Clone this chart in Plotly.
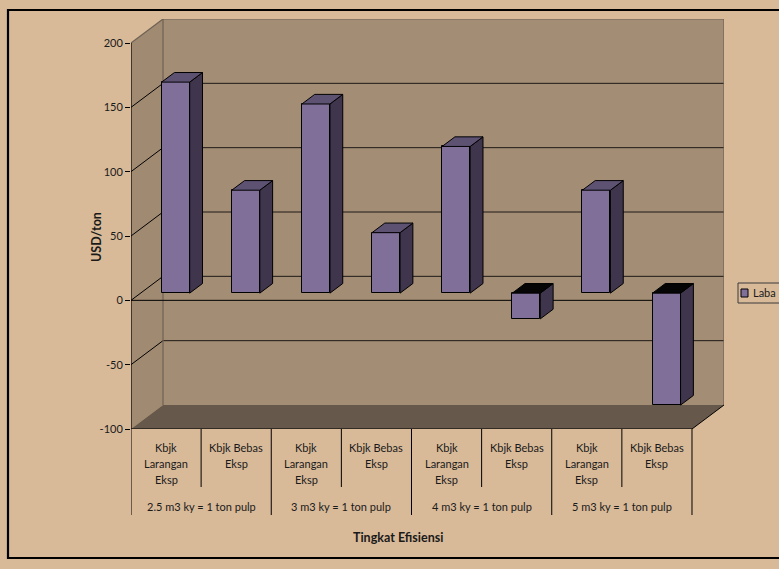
import plotly.graph_objects as go

# ---- data ----
sub_labels = ["Kbjk Larangan Eksp", "Kbjk Bebas Eksp"] * 4
sub_lines = [["Kbjk", "Larangan", "Eksp"], ["Kbjk Bebas", "Eksp"]] * 4
group_labels = ["2.5 m3 ky = 1 ton pulp", "3 m3 ky = 1 ton pulp",
                "4 m3 ky = 1 ton pulp", "5 m3 ky = 1 ton pulp"]
laba = [164, 80, 147, 47, 114, -20, 80, -87]
series_name = "Laba"
y_ticks = [-100, -50, 0, 50, 100, 150, 200]
y_tick_text = ["-100", "-50", "0", "50", "100", "150", "200"]

# ---- style / geometry ----
W, H = 779, 569
PL, PR, PT, PB = 131, 724, 19, 429          # plot area pixels
n = len(laba)
DX = 0.4565                                  # depth offset in category units
DY = 18.65                                   # depth offset in value units
F1, F2 = 0.3, 0.7                            # bar front/back depth fractions
BW = 0.4                                     # bar width (category units)
YMIN, YMAX = -100, 200

BG = "#d8b998"
WALL = "#a38d74"
SIDE = "#a08a71"
FLOOR = "#66584a"
EDGE = "#6e6255"
FRONT = "#806f98"
BSIDE = "#3f354d"
BTOP = "#5e5273"
FONT = "Lato, 'Open Sans', sans-serif"
TXT = "#1a1a1a"


def XP(px):
    return (px - PL) / (PR - PL)


def YP(py):
    return (PB - py) / (PB - PT)


fig = go.Figure()

# bar side faces and top faces (derived from data)
side_x, side_y, topp_x, topp_y, topn_x, topn_y = [], [], [], [], [], []
for i, v in enumerate(laba):
    cx = i + 0.5 + F1 * DX
    xl, xr = cx - BW / 2, cx + BW / 2
    dd = (F2 - F1) * DX
    lo, hi = min(v, 0), max(v, 0)
    b1, b2 = F1 * DY, F2 * DY
    side_x += [xr, xr, xr + dd, xr + dd, xr, None]
    side_y += [lo + b1, hi + b1, hi + b2, lo + b2, lo + b1, None]
    tx = [xl, xr, xr + dd, xl + dd, xl, None]
    ty = [hi + b1, hi + b1, hi + b2, hi + b2, hi + b1, None]
    if v >= 0:
        topp_x += tx
        topp_y += ty
    else:
        topn_x += tx
        topn_y += ty

fig.add_trace(go.Scatter(x=side_x, y=side_y, fill="toself", fillcolor=BSIDE,
                         mode="lines", line=dict(color="black", width=1),
                         showlegend=False, hoverinfo="skip"))
fig.add_trace(go.Scatter(x=topp_x, y=topp_y, fill="toself", fillcolor=BTOP,
                         mode="lines", line=dict(color="black", width=1),
                         showlegend=False, hoverinfo="skip"))
fig.add_trace(go.Scatter(x=topn_x, y=topn_y, fill="toself", fillcolor="#050505",
                         mode="lines", line=dict(color="black", width=1),
                         showlegend=False, hoverinfo="skip"))
fig.add_trace(go.Bar(
    x=[i + 0.5 + F1 * DX for i in range(n)], y=laba,
    base=[F1 * DY] * n, width=BW, name=series_name,
    marker=dict(color=FRONT, line=dict(color="black", width=1)),
    showlegend=False, customdata=sub_labels,
    hovertemplate="%{customdata}: %{y}<extra></extra>"))

shapes = []
# side wall
shapes.append(dict(type="path", xref="x", yref="y", layer="below",
                   path=f"M 0 {YMIN} L {DX} {YMIN+DY} L {DX} {YMAX+DY} L 0 {YMAX} Z",
                   fillcolor=SIDE, line=dict(width=0)))
# back wall
shapes.append(dict(type="rect", xref="x", yref="y", layer="below",
                   x0=DX, x1=n + DX, y0=YMIN + DY, y1=YMAX + DY,
                   fillcolor=WALL, line=dict(width=0)))
# floor
shapes.append(dict(type="path", xref="x", yref="y", layer="below",
                   path=f"M 0 {YMIN} L {n} {YMIN} L {n+DX} {YMIN+DY} L {DX} {YMIN+DY} Z",
                   fillcolor=FLOOR, line=dict(width=0)))
# gridlines
for t in y_ticks:
    if t in (YMIN, YMAX):
        continue
    shapes.append(dict(type="line", xref="x", yref="y", layer="below",
                       x0=0, y0=t, x1=DX, y1=t + DY, line=dict(color="black", width=1)))
    shapes.append(dict(type="line", xref="x", yref="y", layer="below",
                       x0=DX, y0=t + DY, x1=n + DX, y1=t + DY,
                       line=dict(color="#1e1a16", width=1)))
# wall edges
for (x0, y0, x1, y1) in [(0, YMAX, DX, YMAX + DY), (DX, YMAX + DY, n + DX, YMAX + DY),
                         (n + DX, YMIN + DY, n + DX, YMAX + DY),
                         (DX, YMIN + DY, DX, YMAX + DY)]:
    shapes.append(dict(type="line", xref="x", yref="y", layer="below",
                       x0=x0, y0=y0, x1=x1, y1=y1, line=dict(color=EDGE, width=1.2)))
# zero line at front plane
shapes.append(dict(type="line", xref="x", yref="y", layer="below",
                   x0=0, y0=0, x1=n, y1=0, line=dict(color="black", width=1)))
# floor front & right edges
shapes.append(dict(type="line", xref="x", yref="y", x0=0, y0=YMIN, x1=n, y1=YMIN,
                   line=dict(color="black", width=1.2)))
shapes.append(dict(type="line", xref="x", yref="y", x0=n, y0=YMIN, x1=n + DX, y1=YMIN + DY,
                   line=dict(color="black", width=1)))
# front value axis line
shapes.append(dict(type="line", xref="x", yref="y", x0=0, y0=YMIN, x1=0, y1=YMAX,
                   line=dict(color="black", width=1.2)))
# category separators
for k in range(n + 1):
    bottom = 515 if k % 2 == 0 else 487
    shapes.append(dict(type="line", xref="x", yref="paper", x0=k, x1=k,
                       y0=YP(PB), y1=YP(bottom), line=dict(color="black", width=1)))
# outer chart border
shapes.append(dict(type="rect", xref="paper", yref="paper",
                   x0=XP(8), x1=XP(800), y0=YP(558), y1=YP(10),
                   line=dict(color="black", width=2.2)))
# legend box + key
shapes.append(dict(type="rect", xref="paper", yref="paper",
                   x0=XP(738), x1=XP(800), y0=YP(303), y1=YP(283),
                   fillcolor=BG, line=dict(color="#3a3a3a", width=1)))
shapes.append(dict(type="rect", xref="paper", yref="paper",
                   x0=XP(741), x1=XP(748), y0=YP(297), y1=YP(289),
                   fillcolor=FRONT, line=dict(color="black", width=1)))

ann = []
for i, lines in enumerate(sub_lines):
    for k, ln in enumerate(lines):
        ann.append(dict(x=i + 0.5, xref="x", y=YP(447 + 16 * k), yref="paper",
                        text=ln, showarrow=False, xanchor="center", yanchor="middle",
                        font=dict(size=11, color=TXT, family=FONT)))
for g, lab in enumerate(group_labels):
    ann.append(dict(x=2 * g + 1, xref="x", y=YP(506), yref="paper", text=lab,
                    showarrow=False, xanchor="center", yanchor="middle",
                    font=dict(size=11, color=TXT, family=FONT)))
ann.append(dict(x=XP(398), xref="paper", y=YP(537), yref="paper",
                text="<b>Tingkat Efisiensi</b>", showarrow=False,
                xanchor="center", yanchor="middle",
                font=dict(size=12.5, color=TXT, family=FONT)))
ann.append(dict(x=XP(96), xref="paper", y=YP(237), yref="paper",
                text="<b>USD/ton</b>", showarrow=False, textangle=-90,
                xanchor="center", yanchor="middle",
                font=dict(size=12.5, color=TXT, family=FONT)))
ann.append(dict(x=XP(751), xref="paper", y=YP(293), yref="paper", text=series_name,
                showarrow=False, xanchor="left", yanchor="middle",
                font=dict(size=11, color=TXT, family=FONT)))

fig.update_layout(
    width=W, height=H,
    margin=dict(l=PL, r=W - PR, t=PT, b=H - PB, autoexpand=False),
    paper_bgcolor=BG, plot_bgcolor=BG,
    showlegend=False, bargap=0,
    shapes=shapes, annotations=ann,
    xaxis=dict(range=[0, n + DX], showgrid=False, zeroline=False,
               showticklabels=False, showline=False, fixedrange=True),
    yaxis=dict(range=[YMIN, YMAX + DY], showgrid=False, zeroline=False,
               tickvals=y_ticks, ticktext=y_tick_text,
               ticks="outside", ticklen=5, tickcolor="black",
               tickfont=dict(size=11, color=TXT, family=FONT), showline=False),
)

fig.write_html("out.html")
